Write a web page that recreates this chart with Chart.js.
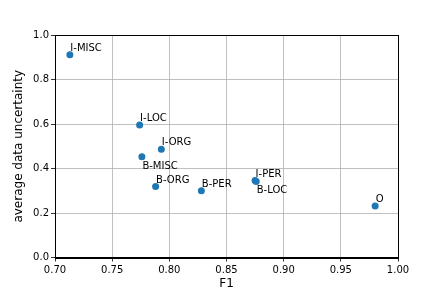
<!DOCTYPE html>
<html>
<head>
<meta charset="utf-8">
<script src="https://cdn.jsdelivr.net/npm/chart.js@4"></script>
<style>
  html, body { margin: 0; padding: 0; background: #fff; }
  #wrap { width: 443px; height: 295px; }
</style>
</head>
<body>
<div id="wrap"><canvas id="myChart"></canvas></div>
<script>
// entity types, their F1 and average data uncertainty
const labels = ['I-MISC', 'I-LOC', 'I-ORG', 'B-MISC', 'B-ORG', 'B-PER', 'I-PER', 'B-LOC', 'O'];
const f1 = [0.713, 0.774, 0.793, 0.776, 0.788, 0.828, 0.875, 0.876, 0.980];
const uncertainty = [0.911, 0.595, 0.486, 0.453, 0.319, 0.300, 0.346, 0.342, 0.231];
const xTicks = [0.70, 0.75, 0.80, 0.85, 0.90, 0.95, 1.00];
const yTicks = [0.0, 0.2, 0.4, 0.6, 0.8, 1.0];

// names that sit under their point instead of above it
const below = ['B-MISC', 'B-LOC'];

const points = [];
for (var i = 0; i < labels.length; i++) {
    points.push({x: f1[i], y: uncertainty[i]});
}

const font = 'DejaVu Sans';

// draws the four spines and the point names
const annotate = {
    id: 'annotate',
    afterDatasetsDraw(chart) {
        const ctx = chart.ctx;
        const meta = chart.getDatasetMeta(0);
        ctx.save();
        ctx.font = '10px "' + font + '"';
        ctx.fillStyle = '#000';
        ctx.textAlign = 'left';
        ctx.textBaseline = 'alphabetic';
        meta.data.forEach(function (pt, i) {
            const dy = below.indexOf(labels[i]) >= 0 ? 12 : -4;
            ctx.fillText(labels[i], pt.x + 0.5, pt.y + dy);
        });
        const a = chart.chartArea;
        ctx.strokeStyle = '#000';
        ctx.lineWidth = 1;
        ctx.strokeRect(Math.round(a.left) + 0.5, Math.round(a.top) + 0.5,
            Math.round(a.right - a.left), Math.round(a.bottom - a.top));
        ctx.restore();
    }
};

new Chart(document.getElementById('myChart'), {
    type: 'scatter',
    data: {
        datasets: [{
            data: points,
            backgroundColor: '#1f77b4',
            borderWidth: 0,
            pointRadius: 3.5,
            pointHoverRadius: 3.5
        }]
    },
    options: {
        responsive: true,
        maintainAspectRatio: false,
        animation: false,
        events: [],
        layout: {padding: {left: 0, top: 35, right: 45, bottom: 0}},
        plugins: {legend: {display: false}, tooltip: {enabled: false}},
        scales: {
            x: {
                type: 'linear',
                min: 0.70,
                max: 1.00,
                afterBuildTicks: function (scale) {
                    scale.ticks = xTicks.map(v => ({value: v}));
                },
                afterFit: function (scale) { scale.height = 37.5; },
                grid: {color: '#b0b0b0', lineWidth: 0.8, tickColor: '#000', tickLength: 4},
                border: {color: '#000', width: 1},
                ticks: {
                    color: '#000',
                    padding: 3,
                    maxRotation: 0,
                    font: {family: font, size: 10},
                    callback: v => v.toFixed(2)
                },
                title: {
                    display: true,
                    text: 'F1',
                    color: '#000',
                    font: {family: font, size: 12},
                    padding: {top: 0, bottom: 4}
                }
            },
            y: {
                type: 'linear',
                min: 0,
                max: 1,
                afterBuildTicks: function (scale) {
                    scale.ticks = yTicks.map(v => ({value: v}));
                },
                afterFit: function (scale) { scale.width = 55; },
                grid: {color: '#b0b0b0', lineWidth: 0.8, tickColor: '#000', tickLength: 4},
                border: {color: '#000', width: 1},
                ticks: {
                    color: '#000',
                    padding: 2,
                    font: {family: font, size: 10},
                    callback: v => v.toFixed(1)
                },
                title: {
                    display: true,
                    text: 'average data uncertainty',
                    color: '#000',
                    font: {family: font, size: 12},
                    padding: {top: 12, bottom: 0}
                }
            }
        }
    },
    plugins: [annotate]
});
</script>
</body>
</html>
